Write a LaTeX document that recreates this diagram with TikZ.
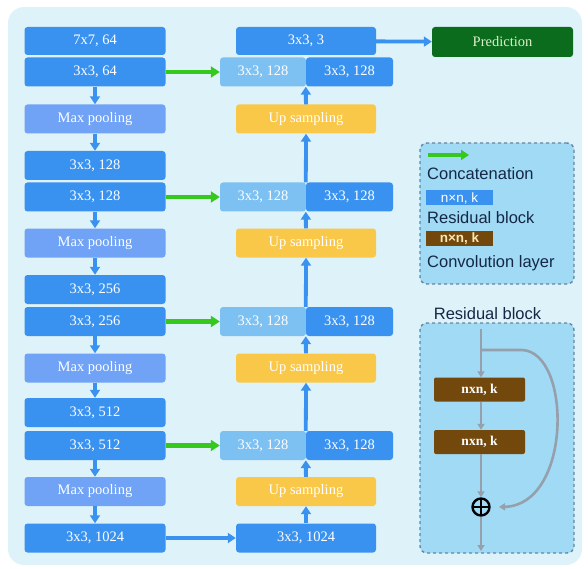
\documentclass[tikz,border=0pt]{standalone}
\usepackage{fontspec}
\setmainfont{Liberation Serif}
\newfontfamily\legsans{Liberation Sans}
\usetikzlibrary{arrows.meta}
\definecolor{bgc}{RGB}{222,243,249}
\definecolor{dblue}{RGB}{58,146,240}
\definecolor{mpool}{RGB}{112,162,245}
\definecolor{lblue}{RGB}{125,192,242}
\definecolor{upc}{RGB}{250,200,72}
\definecolor{predc}{RGB}{12,108,30}
\definecolor{garrow}{RGB}{55,200,30}
\definecolor{legc}{RGB}{160,218,245}
\definecolor{legb}{RGB}{100,135,165}
\definecolor{brownc}{RGB}{115,72,12}
\definecolor{navy}{RGB}{20,40,70}
\definecolor{grayl}{RGB}{150,160,172}
\tikzset{
  box/.style={rectangle, rounded corners=3pt, inner sep=0pt, text=white,
    font=\fontsize{14.5}{16}\selectfont, minimum height=29pt},
  lbox/.style={box, fill=dblue, minimum width=141pt},
  mbox/.style={box, fill=mpool, minimum width=141pt},
  ubox/.style={box, fill=upc, minimum width=140pt},
  cl/.style={box, fill=lblue, minimum width=86pt},
  cd/.style={box, fill=dblue, minimum width=87pt},
  barrow/.style={draw=dblue, line width=3.8pt, -{Triangle[length=8pt,width=10pt]}},
  garr/.style={draw=garrow, line width=4.2pt, -{Triangle[length=9pt,width=11pt]}},
  legtext/.style={anchor=west, text=navy, font=\legsans\fontsize{16.5}{18}\selectfont, inner sep=0pt},
  legbox/.style={draw=legb, dashed, line width=1.4pt, fill=legc, rounded corners=7pt},
  gline/.style={draw=grayl, line width=2.6pt},
  garrow2/.style={gline, -{Triangle[length=6pt,width=7pt]}},
  brbox/.style={rectangle, rounded corners=2pt, fill=brownc, text=white, inner sep=0pt,
    font=\fontsize{13.5}{15}\selectfont\bfseries, minimum width=91pt, minimum height=24pt},
}
\begin{document}
\begin{tikzpicture}[x=1pt,y=-1pt]
\useasboundingbox (0,0) rectangle (588,569);
\fill[bgc, rounded corners=16pt] (8,7) rectangle (582,565);

% left column
\node[lbox, minimum height=28pt] (l1) at (95,41) {7x7, 64};
\node[lbox] (l2) at (95,72) {3x3, 64};
\node[mbox] (m1) at (95,119) {Max pooling};
\node[lbox] (l3) at (95,165.5) {3x3, 128};
\node[lbox] (l4) at (95,197) {3x3, 128};
\node[mbox] (m2) at (95,243) {Max pooling};
\node[lbox] (l5) at (95,289.5) {3x3, 256};
\node[lbox] (l6) at (95,321.5) {3x3, 256};
\node[mbox] (m3) at (95,368) {Max pooling};
\node[lbox] (l7) at (95,412.5) {3x3, 512};
\node[lbox] (l8) at (95,445.5) {3x3, 512};
\node[mbox] (m4) at (95,491.5) {Max pooling};
\node[lbox] (l9) at (95,538) {3x3, 1024};

\draw[barrow] (l2) -- (m1);
\draw[barrow] (m1) -- (l3);
\draw[barrow] (l4) -- (m2);
\draw[barrow] (m2) -- (l5);
\draw[barrow] (l6) -- (m3);
\draw[barrow] (m3) -- (l7);
\draw[barrow] (l8) -- (m4);
\draw[barrow] (m4) -- (l9);

% middle column
\node[lbox, minimum width=140pt, minimum height=28pt] (c0) at (306,41) {3x3, 3};
\node[cl] (a1) at (263,72) {3x3, 128};
\node[cd] (b1) at (349.5,72) {3x3, 128};
\node[ubox] (u1) at (306,119) {Up sampling};
\node[cl] (a2) at (263,197) {3x3, 128};
\node[cd] (b2) at (349.5,197) {3x3, 128};
\node[ubox] (u2) at (306,243) {Up sampling};
\node[cl] (a3) at (263,321.5) {3x3, 128};
\node[cd] (b3) at (349.5,321.5) {3x3, 128};
\node[ubox] (u3) at (306,368) {Up sampling};
\node[cl] (a4) at (263,445.5) {3x3, 128};
\node[cd] (b4) at (349.5,445.5) {3x3, 128};
\node[ubox] (u4) at (306,491.5) {Up sampling};
\node[lbox, minimum width=140pt] (r9) at (306,538) {3x3, 1024};

\draw[barrow] (r9) -- (u4);
\draw[barrow] (u4) -- (b4.south west);
\draw[barrow] (b4.north west) -- (u3.south);
\draw[barrow] (u3) -- (b3.south west);
\draw[barrow] (b3.north west) -- (u2.south);
\draw[barrow] (u2) -- (b2.south west);
\draw[barrow] (b2.north west) -- (u1.south);
\draw[barrow] (u1) -- (b1.south west);

\draw[garr] (l2) -- (a1);
\draw[garr] (l4) -- (a2);
\draw[garr] (l6) -- (a3);
\draw[garr] (l8) -- (a4);
\draw[barrow] (l9) -- (r9);

% prediction
\node[box, fill=predc, text={rgb,255:red,220;green,240;blue,200}, minimum width=141pt, minimum height=30pt] (pred) at (502.5,42) {Prediction};
\draw[barrow] (c0) -- (pred);

% legend
\node[legbox, minimum width=154pt, minimum height=141pt] (leg) at (497,213.5) {};
\coordinate (ga) at (428,155);
\coordinate (gb) at (469,155);
\draw[draw=garrow, line width=3.8pt, -{Triangle[length=8pt,width=10pt]}] (ga) -- (gb);
\node[legtext] (t1) at (427,174) {Concatenation};
\node[rectangle, fill=dblue, text=white, minimum width=67pt, minimum height=15pt, inner sep=0pt,
  font=\legsans\fontsize{13.5}{14}\selectfont] (k1) at (459.5,198) {n×n, k};
\node[legtext] (t2) at (427,218) {Residual block};
\node[rectangle, fill=brownc, text={rgb,255:red,250;green,230;blue,180}, minimum width=67pt, minimum height=15pt, inner sep=0pt,
  font=\legsans\fontsize{13.5}{14}\selectfont\bfseries] (k2) at (459.5,238.5) {n×n, k};
\node[legtext] (t3) at (427,263) {Convolution layer};

% residual block
\node[text=navy, font=\legsans\fontsize{16.5}{18}\selectfont, inner sep=0pt] (rt) at (487.5,314) {Residual block};
\node[legbox, minimum width=154pt, minimum height=230pt] (rb) at (497,438) {};
\coordinate (top) at (481,329);
\coordinate (split) at (481,350);
\node[brbox] (r1) at (479.5,389.5) {nxn, k};
\node[brbox] (r2) at (479.5,442) {nxn, k};
\node[circle, draw=black, line width=2.4pt, minimum size=17pt, inner sep=0pt,
  path picture={\draw[black, line width=2.2pt] (path picture bounding box.north) -- (path picture bounding box.south)
  (path picture bounding box.west) -- (path picture bounding box.east);}] (op) at (481,507) {};
\coordinate (bot) at (481,551);
\coordinate (ce) at (499,507);
\draw[gline] (top) -- (split);
\draw[garrow2] (split) -- (r1.north -| split);
\draw[garrow2] (r1.south -| split) -- (r2.north -| split);
\draw[garrow2] (r2.south -| split) -- (op);
\draw[garrow2] (op) -- (bot);
\draw[garrow2] (split) -- (522,350) .. controls (572,352) and (572,505) .. (ce);
\end{tikzpicture}
\end{document}
